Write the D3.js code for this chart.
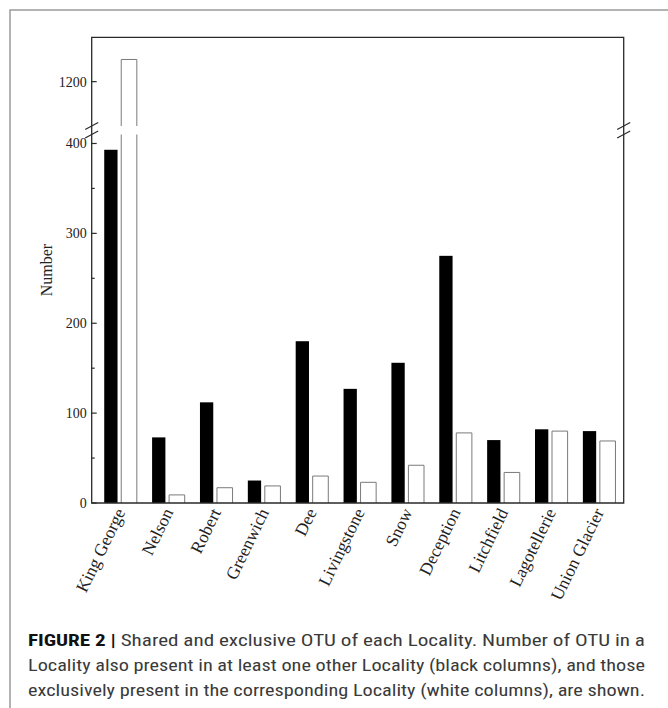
<!DOCTYPE html>
<html>
<head>
<meta charset="utf-8">
<script src="https://cdn.jsdelivr.net/npm/d3@7"></script>
<style>
  html, body { margin: 0; padding: 0; background: #fff; }
  svg { display: block; }
</style>
</head>
<body>
<svg id="chart" width="668" height="708"></svg>
<script>
// Localities and OTU counts
const localities = ["King George", "Nelson", "Robert", "Greenwich", "Dee", "Livingstone",
  "Snow", "Deception", "Litchfield", "Lagotellerie", "Union Glacier"];
const sharedOTU    = [393, 73, 112, 25, 180, 127, 156, 275, 70, 82, 80];   // black columns
const exclusiveOTU = [1225, 9, 17, 19, 30, 23, 42, 78, 34, 80, 69];        // white columns

// Broken y axis: lower and upper segments
const lowerDomain = [0, 410];
const upperDomain = [1150, 1250];
const lowerTicks = [0, 100, 200, 300, 400];
const lowerMinorTicks = [50, 150, 250, 350];
const upperTicks = [1200];

const captionLines = [
  { bold: "FIGURE 2 |", text: " Shared and exclusive OTU of each Locality. Number of OTU in a" },
  { bold: "", text: "Locality also present in at least one other Locality (black columns), and those" },
  { bold: "", text: "exclusively present in the corresponding Locality (white columns), are shown." }
];

const svg = d3.select("#chart");
const serif = "'Liberation Serif', 'Times New Roman', serif";

const frame = { left: 91.7, right: 623.7, top: 37.3, bottom: 503 };
const breakLow = 134.5, breakHigh = 126;

// outer figure box
svg.append("path")
  .attr("d", "M10,720 L10,10 L680,10")
  .attr("fill", "none").attr("stroke", "#9a9a9a").attr("stroke-width", 1.5);

const yLow = d3.scaleLinear().domain(lowerDomain).range([frame.bottom, breakLow]);
const yHigh = d3.scaleLinear().domain(upperDomain).range([breakHigh, frame.top]);

const x = d3.scaleBand().domain(localities).range([96.8, 623.3]).padding(0);
const center = d => x(d) + x.bandwidth() / 2;

// bar segments across the broken axis
function segments(v) {
  const segs = [];
  const lowTop = Math.min(v, lowerDomain[1]);
  segs.push({ y0: yLow(0), y1: yLow(lowTop), openTop: v > lowerDomain[1] });
  if (v > upperDomain[0]) {
    segs.push({ y0: yHigh(upperDomain[0]), y1: yHigh(Math.min(v, upperDomain[1])), openTop: false });
  }
  return segs;
}

const bars = svg.append("g");
localities.forEach((loc, i) => {
  const c = center(loc);
  // shared (black)
  segments(sharedOTU[i]).forEach(s => {
    bars.append("rect")
      .attr("x", c - 16.5).attr("width", 13.3)
      .attr("y", s.y1).attr("height", s.y0 - s.y1)
      .attr("fill", "#000");
  });
  // exclusive (white, grey outline)
  segments(exclusiveOTU[i]).forEach(s => {
    const x0 = c + 0.5, x1 = c + 16.1;
    bars.append("rect")
      .attr("x", x0).attr("width", x1 - x0)
      .attr("y", s.y1).attr("height", s.y0 - s.y1)
      .attr("fill", "#fff");
    let d = `M${x0},${s.y0} L${x0},${s.y1}`;
    d += s.openTop ? ` M${x1},${s.y1}` : ` L${x1},${s.y1}`;
    d += ` L${x1},${s.y0}`;
    bars.append("path").attr("d", d)
      .attr("fill", "none").attr("stroke", "#7a7a7a").attr("stroke-width", 1);
  });
});

// plot frame
const axisColor = "#2a2a2a";
svg.append("path")
  .attr("d", `M${frame.left},${frame.bottom} L${frame.left},${frame.top} L${frame.right},${frame.top} L${frame.right},${frame.bottom} Z`)
  .attr("fill", "none").attr("stroke", axisColor).attr("stroke-width", 1.3);

// ticks (inward)
const tickG = svg.append("g").attr("stroke", axisColor).attr("stroke-width", 1.2);
lowerTicks.forEach(t => tickG.append("line")
  .attr("x1", frame.left).attr("x2", frame.left + 5)
  .attr("y1", yLow(t)).attr("y2", yLow(t)));
lowerMinorTicks.forEach(t => tickG.append("line")
  .attr("x1", frame.left).attr("x2", frame.left + 3)
  .attr("y1", yLow(t)).attr("y2", yLow(t)));
upperTicks.forEach(t => tickG.append("line")
  .attr("x1", frame.left).attr("x2", frame.left + 5)
  .attr("y1", yHigh(t)).attr("y2", yHigh(t)));

// tick labels
const labelG = svg.append("g")
  .attr("font-family", serif).attr("font-size", 14).attr("fill", "#222")
  .attr("text-anchor", "end");
lowerTicks.forEach(t => labelG.append("text")
  .attr("x", frame.left - 5).attr("y", yLow(t)).attr("dy", "0.35em").text(t));
upperTicks.forEach(t => labelG.append("text")
  .attr("x", frame.left - 5).attr("y", yHigh(t)).attr("dy", "0.35em").text(t));

// axis break marks
const breakG = svg.append("g").attr("stroke", axisColor).attr("stroke-width", 1.2);
[frame.left, frame.right].forEach(ax => {
  [breakHigh, breakLow].forEach(by => {
    breakG.append("line")
      .attr("x1", ax - 6.5).attr("y1", by + 3.5)
      .attr("x2", ax + 6.5).attr("y2", by - 3.5);
  });
});

// y axis title
svg.append("text")
  .attr("transform", `translate(52,${(frame.top + frame.bottom) / 2}) rotate(-90)`)
  .attr("text-anchor", "middle")
  .attr("font-family", serif).attr("font-size", 16).attr("fill", "#222")
  .text("Number");

// category labels
const catG = svg.append("g")
  .attr("font-family", serif).attr("font-size", 17.5).attr("fill", "#222");
localities.forEach(loc => {
  catG.append("text")
    .attr("transform", `translate(${center(loc) + 5},${frame.bottom + 9}) rotate(-64)`)
    .attr("text-anchor", "end")
    .text(loc);
});

// caption
const capG = svg.append("g")
  .attr("font-family", "'Liberation Sans Narrow', 'Roboto Condensed', 'Liberation Sans', Arial, sans-serif")
  .attr("font-size", 16.5).attr("fill", "#3a3a3a");
captionLines.forEach((ln, i) => {
  const t = capG.append("text")
    .attr("x", 28).attr("y", 646 + i * 25)
    .attr("textLength", 617).attr("lengthAdjust", "spacingAndGlyphs");
  if (ln.bold) t.append("tspan").attr("font-weight", "bold").attr("fill", "#111").text(ln.bold);
  t.append("tspan").text(ln.text);
});
</script>
</body>
</html>
